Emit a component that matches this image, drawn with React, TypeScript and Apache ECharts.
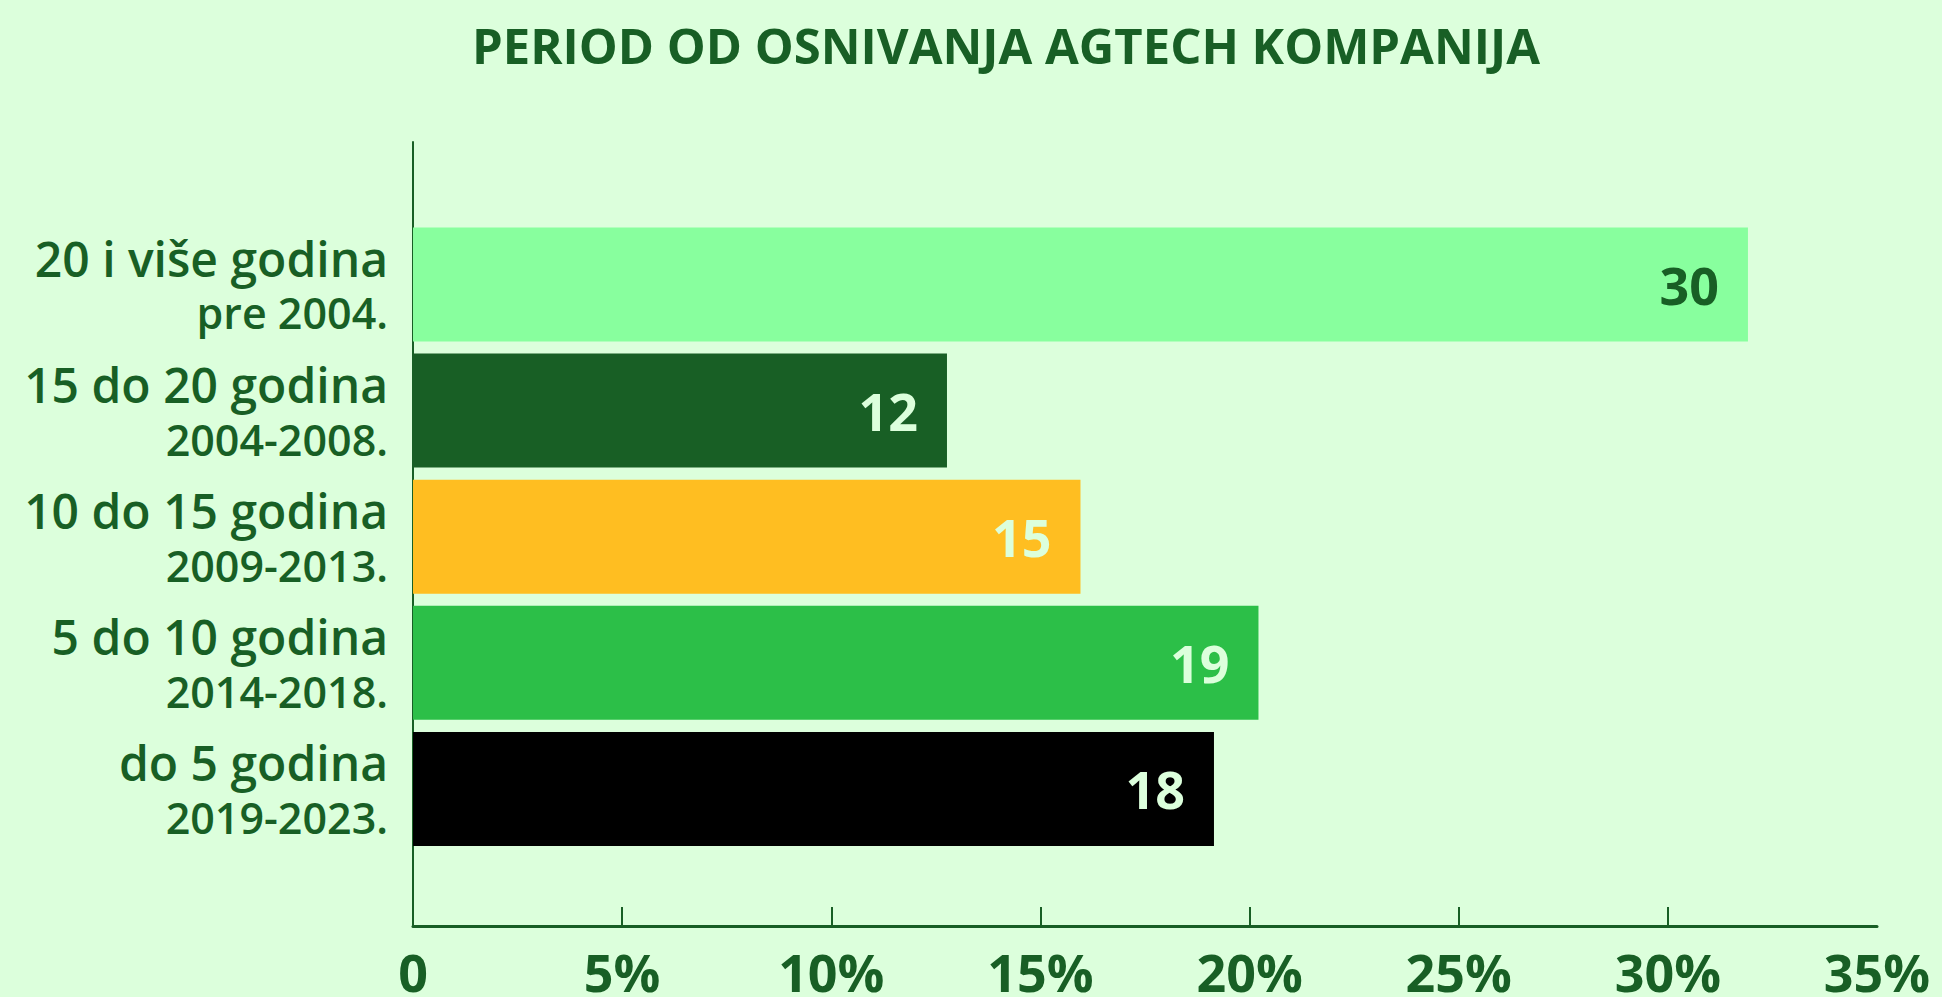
import React, { useEffect, useRef } from "react";
import * as echarts from "echarts";

const TITLE = "PERIOD OD OSNIVANJA AGTECH KOMPANIJA";
const categoriesMain = ["20 i više godina", "15 do 20 godina", "10 do 15 godina", "5 do 10 godina", "do 5 godina"];
const categoriesYears = ["pre 2004.", "2004-2008.", "2009-2013.", "2014-2018.", "2019-2023."];
const counts = [30, 12, 15, 19, 18];
const barColors = ["#88ff9e", "#185f25", "#ffbe21", "#2cbf48", "#000000"];
const labelColors = ["#185f25", "#dcffdc", "#dcffdc", "#dcffdc", "#dcffdc"];
const tickValues = [5, 10, 15, 20, 25, 30];

const DG = "#185f25";
const BG = "#dcffdc";
const FONT = "Open Sans";

export default function App() {
  const ref = useRef<HTMLDivElement>(null);
  useEffect(() => {
    if (!ref.current) return;
    const chart = echarts.init(ref.current, null, { renderer: "svg" });
    const total = counts.reduce((a, b) => a + b, 0);
    chart.setOption({
      animation: false,
      backgroundColor: BG,
      textStyle: { fontFamily: FONT },
      graphic: [
        {
          type: "text",
          x: 1006,
          y: 45,
          style: {
            text: TITLE,
            fontSize: 49,
            fontWeight: 700,
            fontFamily: FONT,
            fill: DG,
            align: "center",
            verticalAlign: "middle",
          },
        },
      ],
      grid: [
        { left: 413, right: 65, top: 142, bottom: 66 },
        { left: 413, right: 65, top: 221.4, bottom: 145 },
      ],
      xAxis: [
        {
          gridIndex: 0,
          type: "value",
          min: 0,
          max: 35,
          interval: 5,
          axisLine: { show: true, lineStyle: { color: DG, width: 3 } },
          axisTick: { show: true, inside: true, length: 19, customValues: tickValues, lineStyle: { color: DG, width: 2 } },
          axisLabel: {
            formatter: (v: number) => (v === 0 ? "0" : v + "%"),
            fontSize: 52,
            fontWeight: 700,
            fontFamily: FONT,
            color: DG,
            margin: 19,
          },
          splitLine: { show: false },
        },
        { gridIndex: 1, type: "value", min: 0, max: 35, show: false },
      ],
      yAxis: [
        {
          gridIndex: 0,
          type: "value",
          min: 0,
          max: 1,
          axisLine: { show: true, lineStyle: { color: DG, width: 2 } },
          axisTick: { show: false },
          axisLabel: { show: false },
          splitLine: { show: false },
        },
        {
          gridIndex: 1,
          type: "category",
          data: categoriesMain,
          inverse: true,
          axisLine: { show: false },
          axisTick: { show: false },
          axisLabel: {
            margin: 25,
            align: "right",
            formatter: (v: string, i: number) => `{a|${v}}\n{b|${categoriesYears[i]}}`,
            rich: {
              a: { fontSize: 48, fontWeight: 600, fontFamily: FONT, color: DG, lineHeight: 57, align: "right" },
              b: { fontSize: 43, fontWeight: 600, fontFamily: FONT, color: DG, lineHeight: 52, align: "right" },
            },
          },
        },
      ],
      series: [
        {
          type: "bar",
          xAxisIndex: 1,
          yAxisIndex: 1,
          barWidth: 114,
          data: counts.map((c, i) => ({
            value: (c / total) * 100,
            itemStyle: { color: barColors[i] },
            label: { color: labelColors[i] },
          })),
          label: {
            show: true,
            position: "insideRight",
            distance: 29,
            fontSize: 52,
            fontWeight: 700,
            fontFamily: FONT,
            formatter: (p: any) => String(counts[p.dataIndex]),
          },
        },
      ],
    });
    return () => chart.dispose();
  }, []);
  return <div ref={ref} style={{ position: "fixed", left: 0, top: 0, width: 1942, height: 997 }} />;
}
